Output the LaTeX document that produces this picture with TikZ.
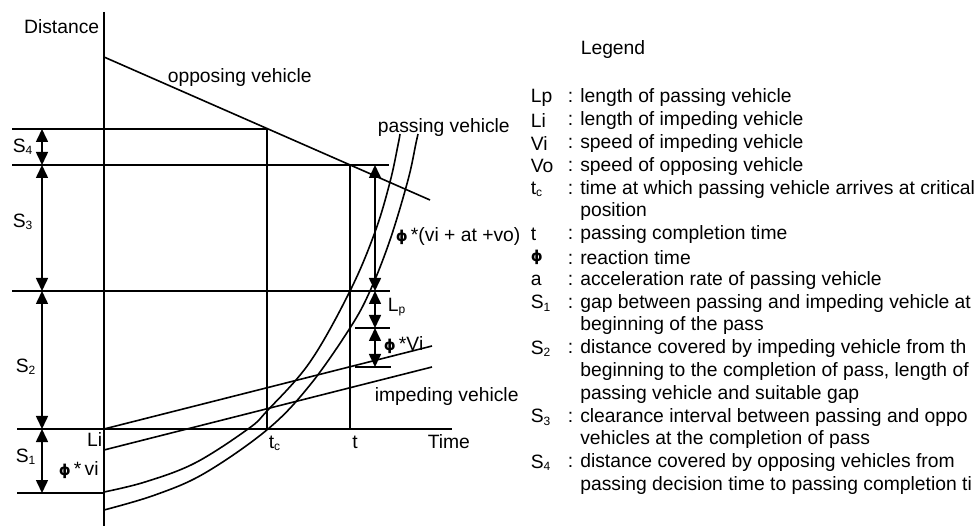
\documentclass[tikz,border=0pt]{standalone}
\usepackage{fontspec}
\setmainfont{Liberation Sans}
\newfontfamily\phifont{DejaVu Sans Bold}
\usetikzlibrary{arrows.meta}
\newcommand\sbs[1]{\raisebox{-0.12em}{\fontsize{12}{12}\selectfont #1}}
\newcommand\phis{{\phifont\fontsize{15}{15}\selectfont ϕ}}
\begin{document}
\begin{tikzpicture}[x=1pt,y=-1pt,line width=1.6pt,
  every node/.style={inner sep=0pt,font=\fontsize{19.3}{22}\selectfont},
  lbl/.style={anchor=west},
  dimarrow/.style={{Triangle[length=13pt,width=12pt]}-{Triangle[length=13pt,width=12pt]}},
  curve/.style={smooth,tension=0.6}]
\useasboundingbox (0,0) rectangle (980,526);
% coordinates
\coordinate (axTop) at (104,12);
\coordinate (axBot) at (104,526);
\coordinate (oppS) at (104,57);
\coordinate (oppE) at (430,200);
\coordinate (L1a) at (12,129);   \coordinate (tcTop) at (267,129);
\coordinate (L2a) at (12,165);   \coordinate (L2b) at (389,165); \coordinate (tTop) at (350,165);
\coordinate (L3a) at (12,291);   \coordinate (L3b) at (390,291);
\coordinate (L4a) at (355,328);  \coordinate (L4b) at (390,328);
\coordinate (L5a) at (355,367);  \coordinate (L5b) at (391,367);
\coordinate (b0) at (17,429);    \coordinate (b1) at (452,429);
\coordinate (tcBot) at (267,429); \coordinate (tBot) at (350,429);
\coordinate (L6a) at (17,493);   \coordinate (L6b) at (104,493);
\coordinate (iuS) at (104,429);  \coordinate (iuE) at (432,346);
\coordinate (ilS) at (104,450);  \coordinate (ilE) at (432,367);
% axes and guide lines
\draw (axTop) -- (axBot);
\draw (b0) -- (b1);
\draw (L1a) -- (tcTop);
\draw (L2a) -- (L2b);
\draw (L3a) -- (L3b);
\draw (L4a) -- (L4b);
\draw (L5a) -- (L5b);
\draw (L6a) -- (L6b);
\draw (tcTop) -- (tcBot);
\draw (tTop) -- (tBot);
% vehicles
\draw (oppS) -- (oppE);
\draw (iuS) -- (iuE);
\draw (ilS) -- (ilE);
\draw plot[curve] coordinates {(104,492) (145,482) (195,463) (248,429) (267,411) (310,362) (350,291) (375,232) (390,182) (398,145) (400,134)};
\draw plot[curve] coordinates {(104,510) (155,495) (205,473) (268,429) (310,385) (350,328) (370,291) (390,240) (408,180) (416,143) (418,134)};
% dimension arrows left
\draw[dimarrow] (42,129) -- (42,165);
\draw[dimarrow] (42,165) -- (42,291);
\draw[dimarrow] (42,291) -- (42,429);
\draw[dimarrow] (42,429) -- (42,493);
% dimension arrows right
\draw[dimarrow] (375,165) -- (375,291);
\draw[dimarrow] (375,291) -- (375,328);
\draw[dimarrow] (375,328) -- (375,367);
% labels
\node[anchor=east] (dist) at (100,27) {Distance};
\node[lbl] (opp) at (167,78) {opposing vehicle};
\node[lbl] (pas) at (377,128) {passing vehicle};
\node[lbl] (imp) at (374,397) {impeding vehicle};
\node[lbl] (time) at (427,442) {Time};
\node (tl) at (355,442) {t};
\node[lbl] (tcl) at (268,443) {t\sbs{c}};
\node[anchor=east] (lil) at (103,440) {Li};
\node[lbl] (s4) at (12,147) {S\sbs{4}};
\node[lbl] (s3) at (12,222) {S\sbs{3}};
\node[lbl] (s2) at (15,367) {S\sbs{2}};
\node[lbl] (s1) at (15,457) {S\sbs{1}};
\node[lbl] (phivi) at (58,470) {\phis\,*\,vi};
\node[lbl] (phiall) at (395,237) {\phis\,*(vi + at +vo)};
\node[lbl] (lp) at (387,307) {L\sbs{p}};
\node[lbl] (phiVi) at (383,345) {\phis\,*Vi};
% legend
\node[lbl] (leg) at (580,50) {Legend};
\def\kx{530}\def\cx{567}
\foreach \i/\k in {0/Lp,1/Li,2/Vi,3/Vo,4/t\sbs{c},6/t,7/\phis,8/a,9/S\sbs{1},11/S\sbs{2},14/S\sbs{3},16/S\sbs{4}}{
  \node[lbl] (k\i) at (\kx,{98+22.8*\i}) {\k};
}
\newcommand\lrow[2]{\node[lbl] (d#1) at (\cx,{98+22.8*#1}) {#2};}
\newcommand\crow[2]{\node[lbl] (d#1) at (\cx,{98+22.8*#1}) {\hphantom{: }#2};}
\lrow{0}{: length of passing vehicle}
\lrow{1}{: length of impeding vehicle}
\lrow{2}{: speed of impeding vehicle}
\lrow{3}{: speed of opposing vehicle}
\lrow{4}{: time at which passing vehicle arrives at critical}
\crow{5}{position}
\lrow{6}{: passing completion time}
\lrow{7}{: reaction time}
\lrow{8}{: acceleration rate of passing vehicle}
\lrow{9}{: gap between passing and impeding vehicle at}
\crow{10}{beginning of the pass}
\lrow{11}{: distance covered by impeding vehicle from th}
\crow{12}{beginning to the completion of pass, length of}
\crow{13}{passing vehicle and suitable gap}
\lrow{14}{: clearance interval between passing and oppo}
\crow{15}{vehicles at the completion of pass}
\lrow{16}{: distance covered by opposing vehicles from}
\crow{17}{passing decision time to passing completion ti}
\end{tikzpicture}
\end{document}
